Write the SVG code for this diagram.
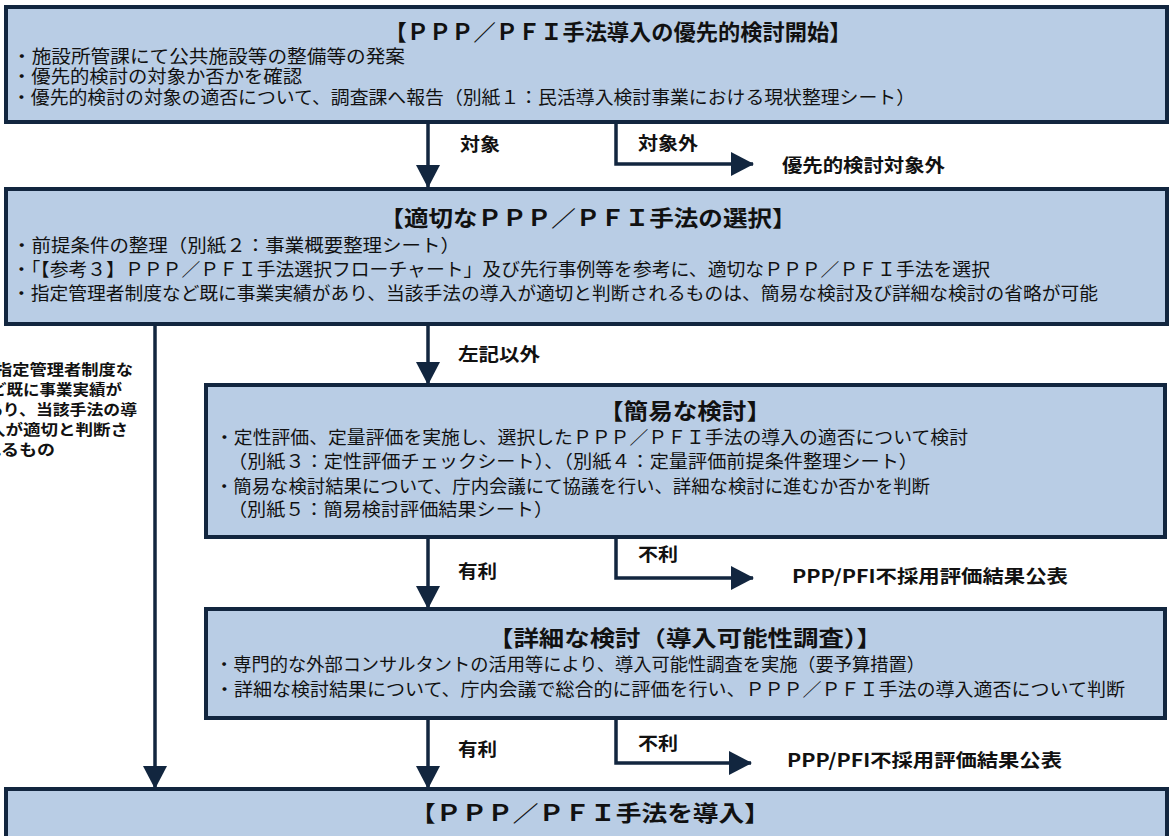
<svg xmlns="http://www.w3.org/2000/svg" width="1169" height="836" viewBox="0 0 1169 836">
<defs>
<style>
.box{fill:#b9cde5;stroke:#12263f;stroke-width:4}
.t{font-family:"Noto Sans CJK JP","Noto Sans",sans-serif;fill:#111}
.ttl{font-size:22px;font-weight:bold;text-anchor:middle}
.body{font-size:18px}
.lbl{font-size:18px;font-weight:bold}
.side{font-size:15px;font-weight:bold}
.con{fill:none;stroke:#12263f;stroke-width:3.5}
</style>
<marker id="ah" markerUnits="userSpaceOnUse" markerWidth="23" markerHeight="24" refX="22" refY="12" orient="auto">
<path d="M0,0 L23,12 L0,24 Z" fill="#12263f"/>
</marker>
</defs>
<rect width="1169" height="836" fill="#ffffff"/>

<g id="connectors">
<path class="con" d="M428,124 V187" marker-end="url(#ah)"/>
<path class="con" d="M616,124 V164 H753" marker-end="url(#ah)"/>
<path class="con" d="M155,326 V788" marker-end="url(#ah)"/>
<path class="con" d="M428,326 V384" marker-end="url(#ah)"/>
<path class="con" d="M428,539 V608" marker-end="url(#ah)"/>
<path class="con" d="M616,539 V578 H753" marker-end="url(#ah)"/>
<path class="con" d="M428,720 V788" marker-end="url(#ah)"/>
<path class="con" d="M616,720 V763 H751" marker-end="url(#ah)"/>
<text class="t lbl" x="460" y="151" textLength="40" lengthAdjust="spacingAndGlyphs">対象</text>
<text class="t lbl" x="638" y="150" textLength="60" lengthAdjust="spacingAndGlyphs">対象外</text>
<text class="t lbl" x="458" y="361" textLength="82" lengthAdjust="spacingAndGlyphs">左記以外</text>
<text class="t lbl" x="458" y="578" textLength="39" lengthAdjust="spacingAndGlyphs">有利</text>
<text class="t lbl" x="638" y="561" textLength="40" lengthAdjust="spacingAndGlyphs">不利</text>
<text class="t lbl" x="458" y="756" textLength="39" lengthAdjust="spacingAndGlyphs">有利</text>
<text class="t lbl" x="638" y="750" textLength="40" lengthAdjust="spacingAndGlyphs">不利</text>
</g>

<g id="out1">
<text class="t lbl" x="782" y="172" textLength="163" lengthAdjust="spacingAndGlyphs">優先的検討対象外</text>
</g>
<g id="out2">
<text class="t lbl" x="792" y="583" textLength="276" lengthAdjust="spacingAndGlyphs">PPP/PFI不採用評価結果公表</text>
</g>
<g id="out3">
<text class="t lbl" x="787" y="767" textLength="275" lengthAdjust="spacingAndGlyphs">PPP/PFI不採用評価結果公表</text>
</g>

<g id="sidenote">
<text class="t side" x="-5" y="375" textLength="138" lengthAdjust="spacingAndGlyphs">指定管理者制度な</text>
<text class="t side" x="-10" y="395" textLength="132" lengthAdjust="spacingAndGlyphs">ど既に事業実績が</text>
<text class="t side" x="-14" y="415" textLength="151" lengthAdjust="spacingAndGlyphs">あり、当該手法の導</text>
<text class="t side" x="-12" y="435" textLength="140" lengthAdjust="spacingAndGlyphs">入が適切と判断さ</text>
<text class="t side" x="-17" y="455" textLength="72" lengthAdjust="spacingAndGlyphs">れるもの</text>
</g>

<g id="node1">
<rect class="box" x="6" y="7" width="1161" height="115"/>
<text class="t ttl" x="618" y="40" textLength="467" lengthAdjust="spacingAndGlyphs">【ＰＰＰ／ＰＦＩ手法導入の優先的検討開始】</text>
<text class="t body" x="12" y="63" textLength="393" lengthAdjust="spacingAndGlyphs">・施設所管課にて公共施設等の整備等の発案</text>
<text class="t body" x="12" y="83" textLength="290" lengthAdjust="spacingAndGlyphs">・優先的検討の対象か否かを確認</text>
<text class="t body" x="12" y="104" textLength="903" lengthAdjust="spacingAndGlyphs">・優先的検討の対象の適否について、調査課へ報告（別紙１：民活導入検討事業における現状整理シート）</text>
</g>

<g id="node2">
<rect class="box" x="6" y="189" width="1161" height="135"/>
<text class="t ttl" x="588" y="226" textLength="417" lengthAdjust="spacingAndGlyphs">【適切なＰＰＰ／ＰＦＩ手法の選択】</text>
<text class="t body" x="12" y="252" textLength="448" lengthAdjust="spacingAndGlyphs">・前提条件の整理（別紙２：事業概要整理シート）</text>
<text class="t body" x="12" y="276" textLength="978" lengthAdjust="spacingAndGlyphs">・「【参考３】ＰＰＰ／ＰＦＩ手法選択フローチャート」及び先行事例等を参考に、適切なＰＰＰ／ＰＦＩ手法を選択</text>
<text class="t body" x="12" y="300" textLength="1086" lengthAdjust="spacingAndGlyphs">・指定管理者制度など既に事業実績があり、当該手法の導入が適切と判断されるものは、簡易な検討及び詳細な検討の省略が可能</text>
</g>

<g id="node3">
<rect class="box" x="206" y="385" width="959" height="152"/>
<text class="t ttl" x="685" y="419" textLength="172" lengthAdjust="spacingAndGlyphs">【簡易な検討】</text>
<text class="t body" x="215" y="444" textLength="753" lengthAdjust="spacingAndGlyphs">・定性評価、定量評価を実施し、選択したＰＰＰ／ＰＦＩ手法の導入の適否について検討</text>
<text class="t body" x="228" y="468" textLength="690" lengthAdjust="spacingAndGlyphs">（別紙３：定性評価チェックシート）、（別紙４：定量評価前提条件整理シート）</text>
<text class="t body" x="215" y="493" textLength="715" lengthAdjust="spacingAndGlyphs">・簡易な検討結果について、庁内会議にて協議を行い、詳細な検討に進むか否かを判断</text>
<text class="t body" x="228" y="516" textLength="325" lengthAdjust="spacingAndGlyphs">（別紙５：簡易検討評価結果シート）</text>
</g>

<g id="node4">
<rect class="box" x="206" y="609" width="959" height="109"/>
<text class="t ttl" x="685" y="646" textLength="394" lengthAdjust="spacingAndGlyphs">【詳細な検討（導入可能性調査）】</text>
<text class="t body" x="215" y="671" textLength="710" lengthAdjust="spacingAndGlyphs">・専門的な外部コンサルタントの活用等により、導入可能性調査を実施（要予算措置）</text>
<text class="t body" x="215" y="696" textLength="910" lengthAdjust="spacingAndGlyphs">・詳細な検討結果について、庁内会議で総合的に評価を行い、ＰＰＰ／ＰＦＩ手法の導入適否について判断</text>
</g>

<g id="node5">
<rect class="box" x="6" y="789" width="1161" height="60"/>
<text class="t ttl" x="590" y="821" textLength="360" lengthAdjust="spacingAndGlyphs">【ＰＰＰ／ＰＦＩ手法を導入】</text>
</g>
</svg>
